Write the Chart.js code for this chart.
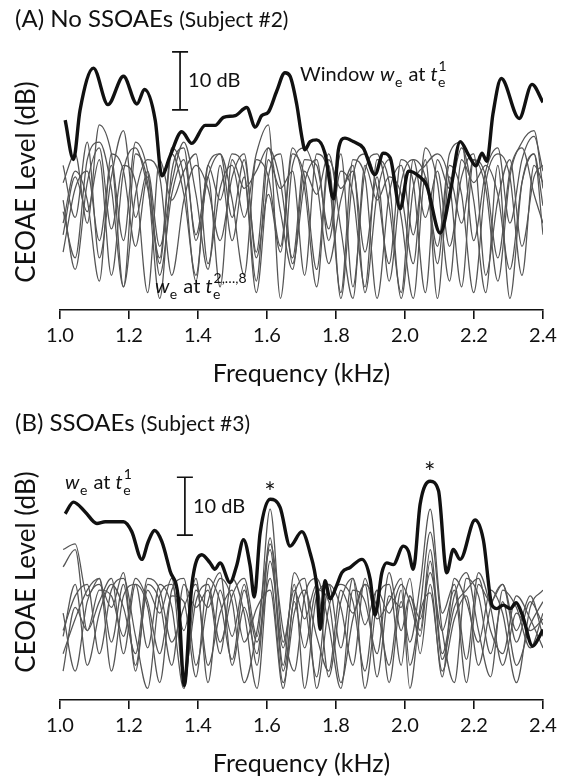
<!DOCTYPE html>
<html>
<head>
<meta charset="utf-8">
<script src="https://cdn.jsdelivr.net/npm/chart.js@4"></script>
<style>
  html, body { margin: 0; padding: 0; background: #fff; }
  #wrap { position: relative; width: 569px; height: 780px; overflow: hidden; }
  .box { position: absolute; left: 0; width: 569px; height: 391px; }
  .ttl { position: absolute; left: 15px; font: 24px Lato; line-height: 29px; color: #111; white-space: nowrap; }
  .ttl span { font-size: 21px; }
  .ytl { position: absolute; left: 25px; font: 26px Lato; line-height: 1; color: #111; white-space: nowrap;
         transform: translate(-50%, -50%) rotate(-90deg); }
</style>
</head>
<body>
<div id="wrap">
  <div class="box" style="top:0"><canvas id="chartA" width="569" height="391"></canvas></div>
  <div class="box" style="top:390px"><canvas id="chartB" width="569" height="391"></canvas></div>
  <div class="ttl" style="top:3px">(A) No SSOAEs <span>(Subject #2)</span></div>
  <div class="ttl" style="top:407px">(B) SSOAEs <span>(Subject #3)</span></div>
  <div class="ytl" style="top:182px">CEOAE Level (dB)</div>
  <div class="ytl" style="top:572px">CEOAE Level (dB)</div>
</div>
<script>
// frequency ticks (kHz)
const freqTicks = [1.0, 1.2, 1.4, 1.6, 1.8, 2.0, 2.2, 2.4];

// ---- panel A: no SSOAEs (subject #2) ----
// window w_e at t_e^1 (bold)
const freqBoldA = [1.015, 1.039, 1.058, 1.097, 1.139, 1.184, 1.223, 1.245, 1.276, 1.295, 1.319, 1.353, 1.382, 1.421,
  1.450, 1.474, 1.508, 1.541, 1.566, 1.585, 1.604, 1.628, 1.652, 1.667, 1.686, 1.701, 1.710, 1.725, 1.744, 1.768,
  1.793, 1.807, 1.826, 1.850, 1.879, 1.913, 1.937, 1.957, 1.986, 2.010, 2.039, 2.063, 2.102, 2.131, 2.160, 2.184,
  2.206, 2.223, 2.237, 2.255, 2.279, 2.331, 2.368, 2.400];
const levelBoldA = [32.8, 26.0, 34.5, 41.8, 35.5, 40.4, 35.6, 38.1, 32.8, 23.2, 26.6, 30.8, 28.8, 31.9,
  31.9, 33.3, 33.6, 35.0, 31.6, 33.6, 34.2, 37.8, 41.0, 40.4, 35.6, 29.9, 27.7, 29.1, 29.4, 27.1,
  19.2, 27.7, 29.7, 29.1, 28.0, 23.4, 27.1, 26.3, 17.5, 24.0, 23.2, 21.5, 13.3, 20.3, 29.1, 26.8,
  24.9, 27.1, 25.7, 33.9, 40.0, 33.1, 39.0, 35.9];

// windows at t_e^2..8 (gray), sampled on freqGridA
const freqGridA = [1.009, 1.044, 1.079, 1.114, 1.149, 1.184, 1.219, 1.254, 1.289, 1.324, 1.359, 1.394, 1.429, 1.464,
  1.499, 1.534, 1.569, 1.604, 1.639, 1.674, 1.709, 1.744, 1.779, 1.814, 1.849, 1.884, 1.919, 1.954, 1.989, 2.024,
  2.059, 2.094, 2.129, 2.164, 2.199, 2.234, 2.269, 2.304, 2.339, 2.374, 2.400];
const levelA_t2 = [22, 27, 15, 32, 27, 12, 29, 24, 8, 27, 20, 6, 25, 27, 16, 26, 10, 28, 22, 9, 26, 25, 14, 27, 4, 24, 27, 18, 3, 26, 23, 11, 27, 29, 12, 24, 28, 15, 26, 30, 24];
const levelA_t3 = [17, 9, 26, 29, 21, 4, 27, 22, 2, 24, 28, 12, 23, 27, 19, 6, 26, 23, 11, 28, 21, 4, 25, 2, 23, 27, 21, 8, 26, 22, 3, 26, 21, 28, 19, 3, 25, 2, 22, 27, 18];
const levelA_t4 = [13, 23, 17, 26, 6, 24, 28, 21, 9, 28, 23, 5, 25, 19, 27, 24, 3, 23, 27, 8, 22, 26, 12, 24, 20, 4, 26, 22, 2, 21, 25, 27, 22, 4, 26, 23, 9, 24, 28, 20, 15];
const levelA_t5 = [19, 7, 22, 28, 14, 25, 22, 3, 26, 19, 24, 27, 8, 21, 25, 16, 27, 32, 2, 25, 28, 22, 8, 19, 25, 3, 20, 26, 16, 2, 23, 8, 25, 20, 3, 22, 27, 23, 6, 25, 22];
const levelA_t6 = [25, 16, 29, 9, 23, 31, 16, 24, 11, 22, 29, 20, 7, 25, 12, 23, 5, 26, 21, 24, 6, 27, 23, 3, 26, 23, 2, 20, 25, 13, 26, 2, 23, 15, 26, 21, 5, 23, 29, 31, 21];
const levelA_t7 = [10, 21, 24, 12, 25, 4, 20, 26, 23, 6, 19, 25, 21, 12, 23, 27, 9, 20, 10, 27, 23, 7, 26, 21, 24, 10, 23, 5, 22, 26, 16, 24, 11, 23, 27, 6, 19, 26, 11, 23, 25];
const levelA_t8 = [15, 24, 19, 5, 27, 24, 11, 23, 6, 20, 26, 13, 23, 4, 26, 21, 24, 28, 17, 7, 24, 20, 27, 14, 2, 25, 19, 23, 20, 8, 28, 22, 5, 26, 22, 25, 20, 7, 22, 27, 13];

// ---- panel B: SSOAEs (subject #3) ----
const freqBoldB = [1.015, 1.039, 1.073, 1.107, 1.131, 1.184, 1.208, 1.237, 1.256, 1.274, 1.295, 1.319, 1.343, 1.360,
  1.382, 1.411, 1.435, 1.449, 1.464, 1.493, 1.512, 1.532, 1.551, 1.563, 1.580, 1.609, 1.638, 1.667, 1.701, 1.725,
  1.744, 1.754, 1.768, 1.783, 1.802, 1.817, 1.841, 1.875, 1.899, 1.913, 1.933, 1.947, 1.966, 1.995, 2.010, 2.024,
  2.044, 2.073, 2.097, 2.121, 2.140, 2.160, 2.203, 2.227, 2.252, 2.266, 2.285, 2.305, 2.322, 2.340, 2.370, 2.390, 2.400];
const levelBoldB = [32.2, 34.2, 32.5, 30.5, 30.8, 30.8, 29.1, 24.3, 27.4, 29.3, 27.4, 22.3, 17.5, 2.5,
  19.8, 25.1, 23.7, 22.6, 23.7, 20.3, 23.2, 27.7, 23.2, 17.8, 28.8, 34.7, 33.3, 26.6, 29.1, 25.4,
  19.8, 12.2, 20.6, 17.5, 19.8, 22.0, 22.9, 24.3, 20.9, 14.7, 22.0, 23.7, 23.4, 26.6, 25.7, 22.6,
  33.9, 37.8, 36.2, 22.0, 26.0, 24.3, 31.1, 27.7, 16.4, 15.8, 16.4, 15.8, 16.8, 14.7, 9.3, 11.0, 12.2];

const freqGridB = [1.009, 1.044, 1.079, 1.114, 1.149, 1.184, 1.219, 1.254, 1.289, 1.324, 1.359, 1.394, 1.429, 1.464,
  1.499, 1.534, 1.571, 1.609, 1.647, 1.679, 1.709, 1.744, 1.779, 1.814, 1.849, 1.884, 1.919, 1.954, 1.989, 2.014,
  2.044, 2.073, 2.108, 2.143, 2.178, 2.213, 2.248, 2.283, 2.323, 2.363, 2.400];
const levelB_t2 = [26, 27, 18, 21, 10, 20, 6, 19, 15, 21, 4, 17, 20, 10, 18, 21, 11, 33, 10, 19, 14, 20, 4, 17, 21, 13, 19, 3, 17, 10, 20, 33, 15, 20, 7, 22, 16, 6, 15, 12, 14];
const levelB_t3 = [23, 26, 12, 17, 21, 8, 20, 16, 3, 19, 21, 6, 17, 22, 6, 16, 8, 28, 6, 22, 17, 4, 20, 16, 6, 21, 14, 17, 21, 6, 16, 29, 12, 3, 21, 18, 8, 17, 6, 13, 17];
const levelB_t4 = [12, 18, 20, 8, 19, 21, 11, 2, 18, 20, 12, 21, 3, 19, 11, 20, 6, 27, 12, 5, 18, 21, 13, 2, 19, 17, 8, 22, 12, 18, 12, 26, 8, 18, 22, 12, 4, 19, 16, 9, 15];
const levelB_t5 = [8, 14, 19, 21, 5, 18, 20, 9, 20, 16, 2, 19, 16, 21, 17, 3, 12, 26, 5, 18, 21, 2, 16, 20, 17, 5, 19, 15, 20, 17, 11, 24, 7, 16, 19, 21, 12, 8, 18, 14, 9];
const levelB_t6 = [15, 5, 17, 20, 16, 22, 5, 20, 17, 6, 20, 16, 19, 8, 21, 15, 2, 24, 9, 20, 2, 18, 20, 9, 21, 2, 17, 20, 6, 18, 14, 22, 12, 19, 3, 20, 17, 20, 10, 17, 13];
const levelB_t7 = [5, 16, 12, 19, 18, 11, 21, 17, 8, 18, 17, 4, 21, 17, 7, 19, 10, 21, 3, 15, 19, 11, 5, 19, 15, 20, 4, 18, 16, 21, 8, 20, 4, 21, 17, 10, 19, 15, 3, 16, 19];
const levelB_t8 = [11, 20, 6, 15, 20, 16, 8, 21, 19, 10, 16, 20, 6, 15, 19, 10, 16, 19, 2, 17, 9, 19, 17, 3, 14, 20, 16, 6, 19, 2, 15, 18.5, 5, 14, 18, 6, 16, 20, 12, 18, 11];

const FONT = 'Lato';
const INK = '#111';

function pairs(xs, ys) {
  return xs.map((x, i) => ({ x: x, y: ys[i] }));
}

function drawRich(ctx, x0, y0, parts, size) {
  let x = x0;
  ctx.textAlign = 'left';
  ctx.textBaseline = 'alphabetic';
  parts.forEach(p => {
    ctx.font = (p.i ? 'italic ' : '') + size + 'px ' + FONT;
    ctx.fillText(p.t, x, y0);
    x += ctx.measureText(p.t).width;
    if (p.sub || p.sup) {
      const s = Math.round(size * 0.7);
      ctx.font = s + 'px ' + FONT;
      let w = 0;
      if (p.sub) { ctx.fillText(p.sub, x + 0.5, y0 + size * 0.3); w = ctx.measureText(p.sub).width; }
      if (p.sup) { ctx.fillText(p.sup, x + 1, y0 - size * 0.5); w = Math.max(w, ctx.measureText(p.sup).width + 0.5); }
      x += w + 1.5;
    }
  });
}

const notesPlugin = {
  id: 'notes',
  afterDatasetsDraw(chart, args, opts) {
    const ctx = chart.ctx, xs = chart.scales.x, ys = chart.scales.y;
    ctx.save();
    ctx.fillStyle = INK;
    ctx.strokeStyle = INK;
    if (opts.bar) {
      const bx = xs.getPixelForValue(opts.bar.at);
      const y0 = ys.getPixelForValue(opts.bar.from);
      const y1 = ys.getPixelForValue(opts.bar.to);
      ctx.lineWidth = 1.7;
      ctx.beginPath();
      ctx.moveTo(bx, y0); ctx.lineTo(bx, y1);
      ctx.moveTo(bx - 8, y0); ctx.lineTo(bx + 8, y0);
      ctx.moveTo(bx - 8, y1); ctx.lineTo(bx + 8, y1);
      ctx.stroke();
      ctx.font = '20px ' + FONT;
      ctx.textBaseline = 'middle';
      ctx.fillText('10 dB', bx + 8, (y0 + y1) / 2);
    }
    (opts.labels || []).forEach(l => {
      drawRich(ctx, xs.getPixelForValue(l.x), ys.getPixelForValue(l.y), l.parts, l.size || 20);
    });
    (opts.stars || []).forEach(s => {
      ctx.font = '27px ' + FONT;
      ctx.textAlign = 'center';
      ctx.textBaseline = 'alphabetic';
      ctx.fillText('*', xs.getPixelForValue(s.x), ys.getPixelForValue(s.y) + 15);
    });
    ctx.restore();
  }
};

function makeChart(id, freqBold, levelBold, grid, grays, notes) {
  const datasets = [{
    data: pairs(freqBold, levelBold),
    borderColor: INK,
    borderWidth: 3.4,
    pointRadius: 0,
    cubicInterpolationMode: 'monotone'
  }];
  grays.forEach(g => datasets.push({
    data: pairs(grid, g),
    borderColor: '#555',
    borderWidth: 1.25,
    pointRadius: 0,
    cubicInterpolationMode: 'monotone'
  }));
  return new Chart(document.getElementById(id), {
    type: 'line',
    data: { datasets: datasets },
    options: {
      responsive: false,
      animation: false,
      devicePixelRatio: 1,
      layout: { padding: { top: 55.4, left: 60, right: 26, bottom: 0 } },
      plugins: { legend: { display: false }, tooltip: { enabled: false }, notes: notes },
      scales: {
        x: {
          type: 'linear', min: 1.0, max: 2.4,
          afterBuildTicks: axis => { axis.ticks = freqTicks.map(v => ({ value: v })); },
          ticks: { callback: v => v.toFixed(1), font: { family: FONT, size: 20 }, color: INK, padding: 5, maxRotation: 0 },
          grid: { drawOnChartArea: false, drawTicks: true, tickLength: 9, color: INK, lineWidth: 1.6 },
          border: { display: true, color: INK, width: 1.6 },
          title: { display: true, text: 'Frequency (kHz)', font: { family: FONT, size: 25 }, color: INK, padding: { top: 6, bottom: 2 } }
        },
        y: { display: false, min: 0, max: 44 }
      }
    },
    plugins: [notesPlugin]
  });
}

makeChart('chartA', freqBoldA, levelBoldA, freqGridA,
  [levelA_t2, levelA_t3, levelA_t4, levelA_t5, levelA_t6, levelA_t7, levelA_t8],
  {
    bar: { at: 1.348, from: 34.6, to: 44.6 },
    labels: [
      { x: 1.696, y: 39.5, parts: [{ t: 'Window ' }, { t: 'w', i: true, sub: 'e' }, { t: ' at ' }, { t: 't', i: true, sub: 'e', sup: '1' }] },
      { x: 1.275, y: 2.9, parts: [{ t: 'w', i: true, sub: 'e' }, { t: ' at ' }, { t: 't', i: true, sub: 'e', sup: '2,\u2026,8' }] }
    ]
  });

makeChart('chartB', freqBoldB, levelBoldB, freqGridB,
  [levelB_t2, levelB_t3, levelB_t4, levelB_t5, levelB_t6, levelB_t7, levelB_t8],
  {
    bar: { at: 1.362, from: 28.5, to: 38.5 },
    labels: [
      { x: 1.0145, y: 36.4, parts: [{ t: 'w', i: true, sub: 'e' }, { t: ' at ' }, { t: 't', i: true, sub: 'e', sup: '1' }] }
    ],
    stars: [{ x: 1.609, y: 36.8 }, { x: 2.072, y: 40.2 }]
  });
</script>
</body>
</html>
